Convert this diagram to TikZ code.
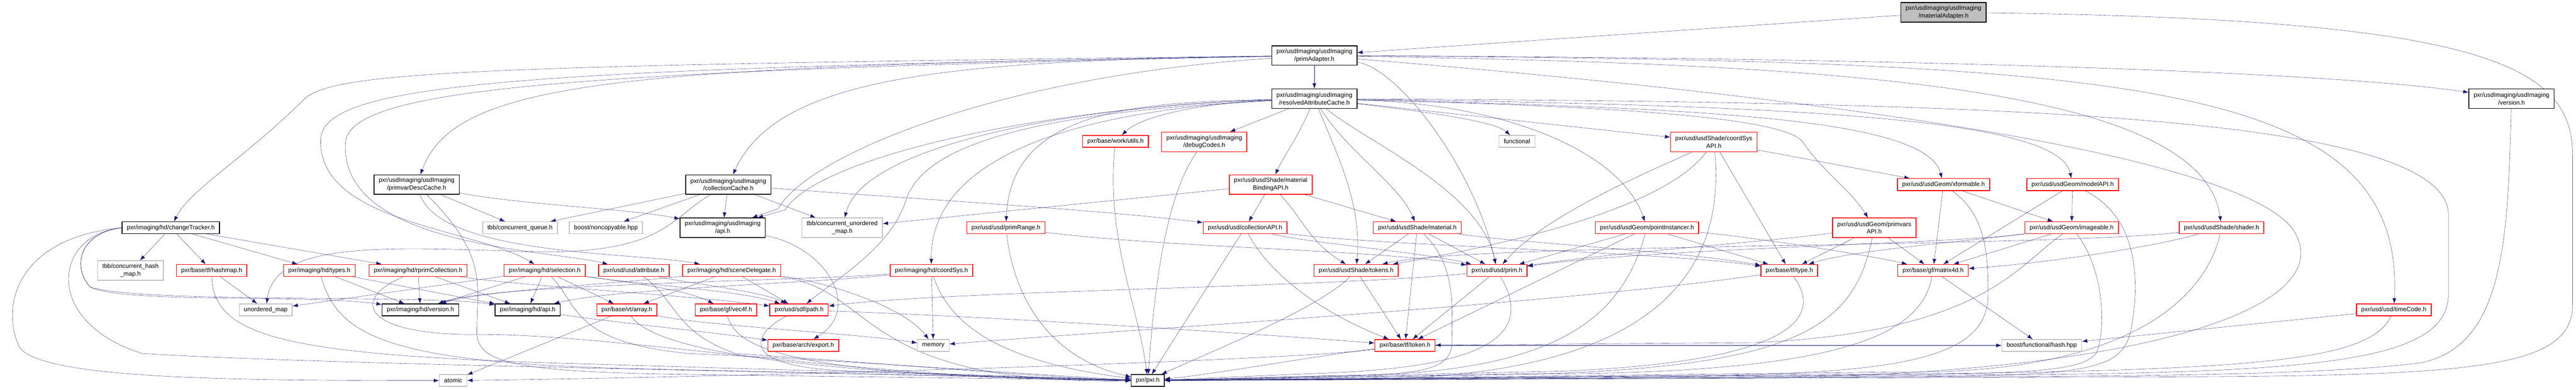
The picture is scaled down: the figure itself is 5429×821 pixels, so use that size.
\documentclass[tikz,border=0pt]{standalone}
\usepackage{fontspec}
\setmainfont{Liberation Sans}
\usetikzlibrary{arrows.meta}
\usetikzlibrary{backgrounds}
\definecolor{edgeblue}{HTML}{191970}
\definecolor{sysgray}{HTML}{BFBFBF}

\begin{document}
\begin{tikzpicture}[x=1pt,y=-1pt,line width=1.3pt,>={Latex[length=11pt,width=8pt]},
  hdr/.style={draw,fill=white,line width=1.6pt,minimum height=25pt,inner xsep=10pt,inner ysep=2pt,align=center,font=\fontsize{13}{16}\selectfont},
  hdrtwo/.style={hdr,minimum height=41pt},
  dep/.style={->,draw=edgeblue}]
  \useasboundingbox (0,0) rectangle (5429,821);
  \node[hdrtwo,fill=sysgray] (matadapter) at (4096,26) {pxr/usdImaging/usdImaging\\/materialAdapter.h};
  \node[hdrtwo] (primadapter) at (2770,117) {pxr/usdImaging/usdImaging\\/primAdapter.h};
  \node[hdrtwo] (rescache) at (2770,208) {pxr/usdImaging/usdImaging\\/resolvedAttributeCache.h};
  \node[hdrtwo] (imgversion) at (5293,208) {pxr/usdImaging/usdImaging\\/version.h};
  \node[hdr,draw=red] (workutils) at (2351,298) {pxr/base/work/utils.h};
  \node[hdrtwo,draw=red] (debugcodes) at (2538,299) {pxr/usdImaging/usdImaging\\/debugCodes.h};
  \node[hdr,draw=sysgray] (functional) at (3197,298) {functional};
  \node[hdrtwo,draw=red] (coordsysapi) at (3612,299) {pxr/usd/usdShade/coordSys\\API.h};
  \node[hdrtwo] (primvarcache) at (878,389) {pxr/usdImaging/usdImaging\\/primvarDescCache.h};
  \node[hdrtwo] (collcache) at (1535,389) {pxr/usdImaging/usdImaging\\/collectionCache.h};
  \node[hdrtwo,draw=red] (bindingapi) at (2678,389) {pxr/usd/usdShade/material\\BindingAPI.h};
  \node[hdr,draw=red] (xformable) at (4096,389) {pxr/usd/usdGeom/xformable.h};
  \node[hdr,draw=red] (modelapi) at (4368,389) {pxr/usd/usdGeom/modelAPI.h};
  \node[hdr] (changetracker) at (360,480) {pxr/imaging/hd/changeTracker.h};
  \node[hdr,draw=sysgray] (tbbqueue) at (1096,480) {tbb/concurrent\_queue.h};
  \node[hdr,draw=sysgray] (noncopyable) at (1277,480) {boost/noncopyable.hpp};
  \node[hdrtwo] (imgapi) at (1523,480) {pxr/usdImaging/usdImaging\\/api.h};
  \node[hdrtwo,draw=sysgray] (tbbumap) at (1775,480) {tbb/concurrent\_unordered\\\_map.h};
  \node[hdr,draw=red] (primrange) at (2120,480) {pxr/usd/usd/primRange.h};
  \node[hdr,draw=red] (collapi) at (2624,480) {pxr/usd/usd/collectionAPI.h};
  \node[hdr,draw=red] (material) at (2987,480) {pxr/usd/usdShade/material.h};
  \node[hdr,draw=red] (pointinst) at (3471,480) {pxr/usd/usdGeom/pointInstancer.h};
  \node[hdrtwo,draw=red] (primvarsapi) at (3950,480) {pxr/usd/usdGeom/primvars\\API.h};
  \node[hdr,draw=red] (imageable) at (4366,480) {pxr/usd/usdGeom/imageable.h};
  \node[hdr,draw=red] (shader) at (4682,480) {pxr/usd/usdShade/shader.h};
  \node[hdrtwo,draw=sysgray] (tbbhashmap) at (275,570) {tbb/concurrent\_hash\\\_map.h};
  \node[hdr,draw=red] (tfhashmap) at (446,570) {pxr/base/tf/hashmap.h};
  \node[hdr,draw=red] (hdtypes) at (673,570) {pxr/imaging/hd/types.h};
  \node[hdr,draw=red] (rprimcoll) at (881,570) {pxr/imaging/hd/rprimCollection.h};
  \node[hdr,draw=red] (selection) at (1148,570) {pxr/imaging/hd/selection.h};
  \node[hdr,draw=red] (attribute) at (1336,570) {pxr/usd/usd/attribute.h};
  \node[hdr,draw=red] (scenedel) at (1542,570) {pxr/imaging/hd/sceneDelegate.h};
  \node[hdr,draw=red] (hdcoordsys) at (1963,570) {pxr/imaging/hd/coordSys.h};
  \node[hdr,draw=red] (shadetokens) at (2858,570) {pxr/usd/usdShade/tokens.h};
  \node[hdr,draw=red] (prim) at (3155,570) {pxr/usd/usd/prim.h};
  \node[hdr,draw=red] (tftype) at (3771,570) {pxr/base/tf/type.h};
  \node[hdr,draw=red] (matrix) at (4074,570) {pxr/base/gf/matrix4d.h};
  \node[hdr,draw=sysgray] (umap) at (560,653) {unordered\_map};
  \node[hdr] (hdversion) at (886,653) {pxr/imaging/hd/version.h};
  \node[hdr] (hdapi) at (1112,653) {pxr/imaging/hd/api.h};
  \node[hdr,draw=red] (vtarray) at (1321,653) {pxr/base/vt/array.h};
  \node[hdr,draw=red] (vecf) at (1530,653) {pxr/base/gf/vec4f.h};
  \node[hdr,draw=red] (sdfpath) at (1684,653) {pxr/usd/sdf/path.h};
  \node[hdr,draw=red] (timecode) at (5045,653) {pxr/usd/usd/timeCode.h};
  \node[hdr,draw=red] (archexport) at (1693,728) {pxr/base/arch/export.h};
  \node[hdr,draw=sysgray] (memory) at (1967,728) {memory};
  \node[hdr,draw=red] (tftoken) at (2961,728) {pxr/base/tf/token.h};
  \node[hdr,draw=sysgray] (boosthash) at (4303,728) {boost/functional/hash.hpp};
  \node[hdr,draw=sysgray] (atomic) at (955,802) {atomic};
  \node[hdr] (pxr) at (2419,802) {pxr/pxr.h};
  \begin{scope}[on background layer]
  \draw[dep] (matadapter) -- (primadapter);
  \draw[dep] (matadapter) .. controls (5250,40) and (5422,140) .. (5422,330) -- (5422,640) .. controls (5422,770) and (5250,792) .. (4600,794) -- (pxr);
  \draw[dep] (primadapter) -- (rescache);
  \draw[dep] (primadapter) .. controls (4000,122) and (4900,150) .. (imgversion);
  \draw[dep] (primadapter) .. controls (1300,140) and (960,170) .. (primvarcache);
  \draw[dep] (primadapter) .. controls (1000,138) and (700,150) .. (640,210) .. controls (520,330) and (400,400) .. (changetracker);
  \draw[dep] (primadapter) .. controls (2000,128) and (1640,160) .. (collcache);
  \draw[dep] (primadapter) .. controls (1100,145) and (690,175) .. (676,290) .. controls (665,470) and (1000,480) .. (selection);
  \draw[dep] (primadapter) .. controls (1150,150) and (740,190) .. (728,300) .. controls (715,520) and (1150,525) .. (attribute);
  \draw[dep] (primadapter) .. controls (2100,160) and (1700,330) .. (1640,440) -- (imgapi);
  \draw[dep] (primadapter) .. controls (4500,128) and (5070,170) .. (timecode);
  \draw[dep] (primadapter) .. controls (3800,135) and (4640,170) .. (shader);
  \draw[dep] (primadapter) .. controls (2950,145) and (3110,360) .. (prim);
  \draw[dep] (primadapter) .. controls (3800,200) and (4700,320) .. (4830,480) .. controls (4950,650) and (4500,800) .. (3600,796) -- (pxr);
  \draw[dep] (rescache) .. controls (2560,215) and (2410,240) .. (workutils);
  \draw[dep] (rescache) -- (debugcodes);
  \draw[dep] (rescache) .. controls (2735,290) and (2705,330) .. (bindingapi);
  \draw[dep] (rescache) .. controls (3000,235) and (3150,255) .. (functional);
  \draw[dep] (rescache) -- (coordsysapi);
  \draw[dep] (rescache) .. controls (3600,228) and (4060,250) .. (xformable);
  \draw[dep] (rescache) .. controls (3800,222) and (4340,250) .. (modelapi);
  \draw[dep] (rescache) .. controls (3300,222) and (3760,240) .. (3800,300) .. controls (3840,360) and (3900,400) .. (primvarsapi);
  \draw[dep] (rescache) .. controls (3200,220) and (3420,330) .. (pointinst);
  \draw[dep] (rescache) .. controls (2840,320) and (2950,390) .. (material);
  \draw[dep] (rescache) .. controls (2880,300) and (3120,400) .. (prim);
  \draw[dep] (rescache) .. controls (2820,330) and (2870,430) .. (shadetokens);
  \draw[dep] (rescache) .. controls (2400,215) and (2130,230) .. (primrange);
  \draw[dep] (rescache) .. controls (2300,220) and (1820,300) .. (tbbumap);
  \draw[dep] (rescache) .. controls (2200,225) and (1725,330) .. (1655,442) -- (imgapi);
  \draw[dep] (rescache) .. controls (2300,230) and (1960,320) .. (hdcoordsys);
  \draw[dep] (rescache) .. controls (2200,235) and (1950,300) .. (1910,420) .. controls (1880,520) and (1760,590) .. (sdfpath);
  \draw[dep] (rescache) .. controls (4200,215) and (5150,240) .. (5160,450) -- (5160,620) .. controls (5160,760) and (4900,786) .. (4200,790) -- (pxr);
  \draw[dep] (imgversion) .. controls (5285,500) and (5280,730) .. (5100,765) .. controls (4900,790) and (4500,793) .. (4100,794) -- (pxr);
  \draw[dep] (workutils) .. controls (2330,500) and (2400,650) .. (pxr);
  \draw[dep] (debugcodes) .. controls (2450,420) and (2430,650) .. (pxr);
  \draw[dep] (coordsysapi) -- (xformable);
  \draw[dep] (coordsysapi) -- (tftype);
  \draw[dep] (coordsysapi) .. controls (3480,360) and (3260,450) .. (prim);
  \draw[dep] (coordsysapi) .. controls (3500,450) and (3120,525) .. (shadetokens);
  \draw[dep] (coordsysapi) .. controls (3640,600) and (3450,790) .. (2900,798) -- (pxr);
  \draw[dep] (primvarcache) -- (tbbqueue);
  \draw[dep] (primvarcache) .. controls (1100,432) and (1330,440) .. (imgapi);
  \draw[dep] (primvarcache) .. controls (930,540) and (1350,532) .. (scenedel);
  \draw[dep] (primvarcache) .. controls (1030,540) and (1005,600) .. (1005,700) .. controls (1005,770) and (1100,785) .. (1500,790) -- (pxr);
  \draw[dep] (collcache) -- (tbbqueue);
  \draw[dep] (collcache) -- (noncopyable);
  \draw[dep] (collcache) -- (imgapi);
  \draw[dep] (collcache) -- (tbbumap);
  \draw[dep] (collcache) .. controls (1900,418) and (2300,440) .. (collapi);
  \draw[dep] (collcache) .. controls (1410,460) and (1400,540) .. (1100,530) .. controls (800,520) and (580,510) .. (umap);
  \draw[dep] (bindingapi) -- (collapi);
  \draw[dep] (bindingapi) -- (material);
  \draw[dep] (bindingapi) .. controls (2745,460) and (2760,510) .. (shadetokens);
  \draw[dep] (bindingapi) -- (tbbumap);
  \draw[dep] (xformable) -- (imageable);
  \draw[dep] (xformable) -- (matrix);
  \draw[dep] (xformable) .. controls (4180,450) and (4190,520) .. (4190,620) .. controls (4190,760) and (4000,790) .. (3500,792) -- (pxr);
  \draw[dep] (modelapi) -- (imageable);
  \draw[dep] (modelapi) -- (matrix);
  \draw[dep] (modelapi) .. controls (4510,460) and (4510,600) .. (4490,700) .. controls (4470,780) and (4400,792) .. (4000,794) -- (pxr);
  \draw[dep] (changetracker) -- (tbbhashmap);
  \draw[dep] (changetracker) -- (tfhashmap);
  \draw[dep] (changetracker) -- (hdtypes);
  \draw[dep] (changetracker) -- (rprimcoll);
  \draw[dep] (changetracker.west) .. controls (170,490) and (150,560) .. (190,605) .. controls (260,640) and (650,620) .. (hdversion);
  \draw[dep] (changetracker.west) .. controls (170,490) and (150,560) .. (190,605) .. controls (300,640) and (900,620) .. (hdapi);
  \draw[dep] (changetracker.west) .. controls (40,500) and (0,640) .. (40,730) .. controls (80,800) and (500,802) .. (atomic);
  \draw[dep] (changetracker.west) .. controls (110,495) and (90,680) .. (300,745) .. controls (700,770) and (1800,785) .. (pxr);
  \draw[dep] (primrange) .. controls (2500,525) and (2900,525) .. (prim);
  \draw[dep] (primrange) .. controls (2140,650) and (2230,760) .. (pxr);
  \draw[dep] (collapi) .. controls (2760,512) and (3000,532) .. (prim);
  \draw[dep] (collapi) .. controls (2900,518) and (3500,530) .. (tftype);
  \draw[dep] (collapi) .. controls (2665,560) and (2760,650) .. (tftoken);
  \draw[dep] (collapi) -- (pxr);
  \draw[dep] (material) -- (shadetokens);
  \draw[dep] (material) -- (prim);
  \draw[dep] (material) -- (tftoken);
  \draw[dep] (material) .. controls (3200,512) and (3550,530) .. (tftype);
  \draw[dep] (material) .. controls (3070,560) and (3060,650) .. (3060,720) .. controls (3060,780) and (3000,790) .. (2800,792) -- (pxr);
  \draw[dep] (pointinst) -- (prim);
  \draw[dep] (pointinst) -- (tftype);
  \draw[dep] (pointinst) .. controls (3700,500) and (3950,540) .. (matrix);
  \draw[dep] (pointinst) -- (tftoken);
  \draw[dep] (pointinst) .. controls (3420,660) and (3300,775) .. (2900,790) -- (pxr);
  \draw[dep] (primvarsapi) -- (tftype);
  \draw[dep] (primvarsapi) -- (matrix);
  \draw[dep] (primvarsapi) .. controls (3700,512) and (3400,532) .. (prim);
  \draw[dep] (primvarsapi) .. controls (3910,680) and (3800,765) .. (3300,786) -- (pxr);
  \draw[dep] (imageable) .. controls (4100,515) and (3500,522) .. (prim);
  \draw[dep] (imageable) .. controls (4150,508) and (3900,528) .. (tftype);
  \draw[dep] (imageable) -- (matrix);
  \draw[dep] (imageable) .. controls (4250,560) and (4180,700) .. (3700,722) -- (tftoken);
  \draw[dep] (imageable) .. controls (4430,560) and (4440,680) .. (4420,740) .. controls (4400,780) and (4300,788) .. (3950,790) -- (pxr);
  \draw[dep] (shader) .. controls (4300,522) and (3100,512) .. (shadetokens);
  \draw[dep] (shader) .. controls (4500,530) and (4250,560) .. (matrix);
  \draw[dep] (shader) .. controls (4650,620) and (4500,790) .. (4000,784) -- (pxr);
  \draw[dep] (tfhashmap) -- (umap);
  \draw[dep] (tfhashmap) .. controls (450,710) and (600,748) .. (1200,766) -- (pxr);
  \draw[dep] (hdtypes) -- (hdversion);
  \draw[dep] (hdtypes) -- (hdapi);
  \draw[dep] (hdtypes) .. controls (710,700) and (800,762) .. (1300,776) -- (pxr);
  \draw[dep] (rprimcoll) -- (hdversion);
  \draw[dep] (rprimcoll) -- (hdapi);
  \draw[dep] (rprimcoll) .. controls (1100,603) and (1450,622) .. (sdfpath);
  \draw[dep] (rprimcoll) .. controls (740,630) and (760,705) .. (1000,705) .. controls (1300,702) and (1800,800) .. (pxr);
  \draw[dep] (selection) -- (hdversion);
  \draw[dep] (selection) -- (hdapi);
  \draw[dep] (selection) -- (vtarray);
  \draw[dep] (selection) -- (umap);
  \draw[dep] (selection) .. controls (1300,592) and (1440,608) .. (vecf);
  \draw[dep] (selection) .. controls (1350,600) and (1560,612) .. (sdfpath);
  \draw[dep] (selection) .. controls (1220,640) and (1200,720) .. (1450,745) .. controls (1800,760) and (2200,792) .. (pxr);
  \draw[dep] (attribute) .. controls (1450,598) and (1600,612) .. (sdfpath);
  \draw[dep] (attribute) .. controls (1425,630) and (1420,700) .. (1550,745) .. controls (1900,768) and (2200,796) .. (pxr);
  \draw[dep] (scenedel) -- (vtarray);
  \draw[dep] (scenedel) -- (sdfpath);
  \draw[dep] (scenedel) .. controls (1720,590) and (1900,640) .. (memory);
  \draw[dep] (scenedel) .. controls (1300,598) and (1020,612) .. (hdversion);
  \draw[dep] (scenedel) .. controls (1850,610) and (1800,810) .. (pxr);
  \draw[dep] (hdcoordsys) -- (memory);
  \draw[dep] (hdcoordsys) .. controls (1700,598) and (1300,608) .. (hdapi);
  \draw[dep] (hdcoordsys) .. controls (1700,592) and (1040,598) .. (hdversion);
  \draw[dep] (hdcoordsys) .. controls (2000,680) and (2100,762) .. (pxr);
  \draw[dep] (shadetokens) -- (tftoken);
  \draw[dep] (shadetokens) .. controls (2780,650) and (2550,742) .. (pxr);
  \draw[dep] (prim) -- (tftoken);
  \draw[dep] (prim) .. controls (2800,606) and (2000,612) .. (sdfpath);
  \draw[dep] (prim) .. controls (3230,700) and (3150,772) .. (2800,786) -- (pxr);
  \draw[dep] (tftype) .. controls (3300,640) and (2300,700) .. (memory);
  \draw[dep] (tftype) .. controls (3850,680) and (3750,762) .. (3300,782) -- (pxr);
  \draw[dep] (matrix) -- (boosthash);
  \draw[dep] (matrix) .. controls (4050,700) and (3900,772) .. (3400,786) -- (pxr);
  \draw[dep] (hdapi) .. controls (1300,680) and (1500,700) .. (archexport);
  \draw[dep] (imgapi) .. controls (1740,520) and (1820,650) .. (archexport);
  \draw[dep] (vtarray) -- (atomic);
  \draw[dep] (vtarray) .. controls (1500,688) and (1800,702) .. (memory);
  \draw[dep] (vtarray) .. controls (1380,740) and (1700,790) .. (pxr);
  \draw[dep] (vecf) .. controls (1550,730) and (1650,795) .. (pxr);
  \draw[dep] (sdfpath) .. controls (1590,700) and (1540,775) .. (1800,782) -- (pxr);
  \draw[dep] (sdfpath) .. controls (2100,668) and (2600,700) .. (tftoken);
  \draw[dep] (timecode) -- (boosthash);
  \draw[dep] (timecode) .. controls (5000,752) and (4800,776) .. (4200,786) -- (pxr);
  \draw[dep] (tftoken) -- (boosthash);
  \draw[dep] (tftoken) .. controls (2800,746) and (2550,790) .. (pxr);
  \draw[dep] (tftoken) .. controls (2700,762) and (1500,796) .. (atomic);
  \end{scope}
\end{tikzpicture}
\end{document}
